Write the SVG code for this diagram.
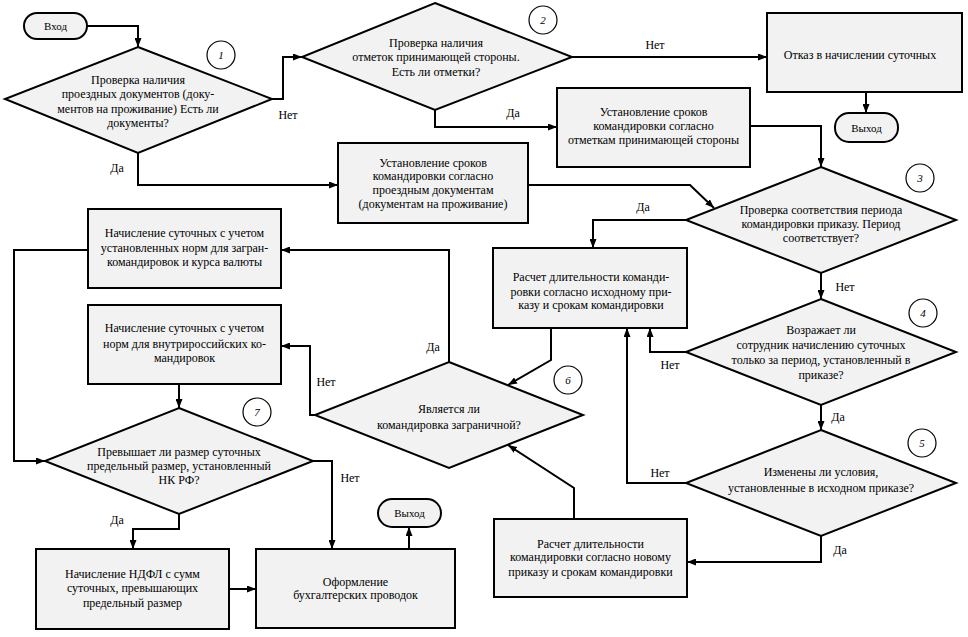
<svg xmlns="http://www.w3.org/2000/svg" width="968" height="637" viewBox="0 0 968 637" font-family="'Liberation Serif', 'Times New Roman', serif">
<defs>
<style>
.n{fill:#f2f2f2;stroke:#000;stroke-width:2}
.c{fill:#fff;stroke:#000;stroke-width:1.2}
text{font-family:'Liberation Serif','Times New Roman',serif}
.t{font-size:12px;fill:#000;text-anchor:middle}
.s{font-size:11px}
.num{font-size:11px;font-style:italic;text-anchor:middle}
.l{font-size:12px;fill:#000;text-anchor:middle}
.e{fill:none;stroke:#000;stroke-width:2;marker-end:url(#ah)}
</style>
<marker id="ah" viewBox="0 0 9 7" refX="9" refY="3.5" markerWidth="9" markerHeight="7" markerUnits="userSpaceOnUse" orient="auto"><path d="M0,0 L9,3.5 L0,7 z" fill="#000"/></marker>
</defs>
<rect width="968" height="637" fill="#fff"/>

<g id="connectors">
<path class="e" d="M87,26 H138 V47"/>
<path class="e" d="M272,99 H283 V57 H302"/>
<path class="e" d="M138,153 V185 H338"/>
<path class="e" d="M572,57 H767"/>
<path class="e" d="M435,110 V127 H557"/>
<path class="e" d="M866,92 V113"/>
<path class="e" d="M750,126 H821 V167"/>
<path class="e" d="M528,185 H690 L714,208"/>
<path class="e" d="M686,220 H593 V248"/>
<path class="e" d="M821,273 V299"/>
<path class="e" d="M686,352 H650 V328"/>
<path class="e" d="M821,405 V430"/>
<path class="e" d="M686,483 H627 V328"/>
<path class="e" d="M821,536 V562 H687"/>
<path class="e" d="M551,328 V360 L508,385"/>
<path class="e" d="M574,519 V488 L508,445"/>
<path class="e" d="M449,362 V250 H281"/>
<path class="e" d="M315,415 H310 V346 H281"/>
<path class="e" d="M179,384 V408"/>
<path class="e" d="M88,250 H14 V461 H45"/>
<path class="e" d="M313,461 H332 V549"/>
<path class="e" d="M179,514 V529 H133 V549"/>
<path class="e" d="M229,589 H256"/>
<path class="e" d="M409,549 V527"/>
<text class="l" x="288" y="119">Нет</text>
<text class="l" x="117" y="172">Да</text>
<text class="l" x="655" y="49">Нет</text>
<text class="l" x="513" y="117">Да</text>
<text class="l" x="643" y="211">Да</text>
<text class="l" x="845" y="291">Нет</text>
<text class="l" x="670" y="369">Нет</text>
<text class="l" x="838" y="421">Да</text>
<text class="l" x="660" y="477">Нет</text>
<text class="l" x="840" y="554">Да</text>
<text class="l" x="433" y="351">Да</text>
<text class="l" x="326" y="386">Нет</text>
<text class="l" x="350" y="482">Нет</text>
<text class="l" x="117" y="524">Да</text>
</g>

<g id="start">
<rect class="n" x="24" y="13" width="63" height="26" rx="13"/>
<text class="t s" x="55.5" y="30">Вход</text>
</g>

<g id="d1">
<polygon class="n" points="138,47 272,99 138,153 5,99"/>
<text class="t" x="138" y="84">Проверка наличия</text>
<text class="t" x="138" y="98">проездных документов (доку-</text>
<text class="t" x="138" y="113">ментов на проживание) Есть ли</text>
<text class="t" x="138" y="127">документы?</text>
<circle class="c" cx="221" cy="55" r="14"/>
<text class="num" x="221" y="59">1</text>
</g>

<g id="d2">
<polygon class="n" points="435,3 572,57 435,110 302,57"/>
<text class="t" x="436" y="47">Проверка наличия</text>
<text class="t" x="436" y="61">отметок принимающей  стороны.</text>
<text class="t" x="436" y="76">Есть ли отметки?</text>
<circle class="c" cx="543" cy="20" r="14"/>
<text class="num" x="543" y="24">2</text>
</g>

<g id="refuse">
<rect class="n" x="767" y="13" width="195" height="79"/>
<text class="t" x="860" y="59">Отказ в начислении  суточных</text>
</g>

<g id="exit1">
<rect class="n" x="835" y="113" width="63" height="29" rx="14"/>
<text class="t s" x="866.5" y="132">Выход</text>
</g>

<g id="b2">
<rect class="n" x="557" y="88" width="193" height="79"/>
<text class="t" x="653.5" y="116">Установление сроков</text>
<text class="t" x="653.5" y="130">командировки согласно</text>
<text class="t" x="653.5" y="144">отметкам принимающей  стороны</text>
</g>

<g id="b1">
<rect class="n" x="338" y="143" width="190" height="80"/>
<text class="t" x="433" y="167">Установление сроков</text>
<text class="t" x="433" y="180">командировки согласно</text>
<text class="t" x="433" y="194">проездным документам</text>
<text class="t" x="433" y="208">(документам на проживание)</text>
</g>

<g id="d3">
<polygon class="n" points="821,167 956,220 821,273 686,220"/>
<text class="t" x="821" y="214">Проверка соответствия периода</text>
<text class="t" x="821" y="228">командировки приказу. Период</text>
<text class="t" x="821" y="242">соответствует?</text>
<circle class="c" cx="920" cy="178" r="14"/>
<text class="num" x="920" y="182">3</text>
</g>

<g id="b3">
<rect class="n" x="493" y="248" width="194" height="80"/>
<text class="t" x="591" y="281">Расчет длительности команди-</text>
<text class="t" x="591" y="296">ровки согласно исходному при-</text>
<text class="t" x="591" y="309">казу и срокам командировки</text>
</g>

<g id="d4">
<polygon class="n" points="821,299 956,352 821,405 686,352"/>
<text class="t" x="821" y="334">Возражает ли</text>
<text class="t" x="821" y="349">сотрудник начислению  суточных</text>
<text class="t" x="821" y="364">только за период, установленный  в</text>
<text class="t" x="821" y="379">приказе?</text>
<circle class="c" cx="923" cy="313" r="14"/>
<text class="num" x="923" y="317">4</text>
</g>

<g id="d5">
<polygon class="n" points="821,430 956,483 821,536 686,483"/>
<text class="t" x="821" y="476">Изменены ли условия,</text>
<text class="t" x="821" y="492">установленные  в исходном приказе?</text>
<circle class="c" cx="922" cy="443" r="14"/>
<text class="num" x="922" y="447" font-style="normal">5</text>
</g>

<g id="b4">
<rect class="n" x="494" y="519" width="193" height="78"/>
<text class="t" x="590.5" y="548">Расчет длительности</text>
<text class="t" x="590.5" y="561">командировки согласно новому</text>
<text class="t" x="590.5" y="576">приказу и срокам командировки</text>
</g>

<g id="d6">
<polygon class="n" points="449,362 583,415 449,468 315,415"/>
<text class="t" x="449" y="413">Является ли</text>
<text class="t" x="449" y="429">командировка заграничной?</text>
<circle class="c" cx="568" cy="380" r="14"/>
<text class="num" x="568" y="384">6</text>
</g>

<g id="b5">
<rect class="n" x="88" y="209" width="193" height="79"/>
<text class="t" x="184.5" y="237">Начисление  суточных с учетом</text>
<text class="t" x="184.5" y="252">установленных  норм для загран-</text>
<text class="t" x="184.5" y="266">командировок и курса валюты</text>
</g>

<g id="b6">
<rect class="n" x="88" y="305" width="193" height="79"/>
<text class="t" x="184.5" y="332">Начисление  суточных с учетом</text>
<text class="t" x="184.5" y="348">норм для внутрироссийских  ко-</text>
<text class="t" x="184.5" y="362">мандировок</text>
</g>

<g id="d7">
<polygon class="n" points="179,408 313,461 179,514 45,461"/>
<text class="t" x="179" y="456">Превышает ли размер суточных</text>
<text class="t" x="179" y="470">предельный  размер, установленный</text>
<text class="t" x="179" y="484">НК РФ?</text>
<circle class="c" cx="257" cy="412" r="14"/>
<text class="num" x="257" y="416" font-style="normal">7</text>
</g>

<g id="b7">
<rect class="n" x="36" y="549" width="193" height="80"/>
<text class="t" x="132.5" y="578">Начисление  НДФЛ с сумм</text>
<text class="t" x="132.5" y="592">суточных, превышающих</text>
<text class="t" x="132.5" y="607">предельный  размер</text>
</g>

<g id="b8">
<rect class="n" x="256" y="549" width="199" height="79"/>
<text class="t" x="355.5" y="586">Оформление</text>
<text class="t" x="355.5" y="599">бухгалтерских  проводок</text>
</g>

<g id="exit2">
<rect class="n" x="378" y="499" width="63" height="28" rx="14"/>
<text class="t s" x="409.5" y="517">Выход</text>
</g>
</svg>
